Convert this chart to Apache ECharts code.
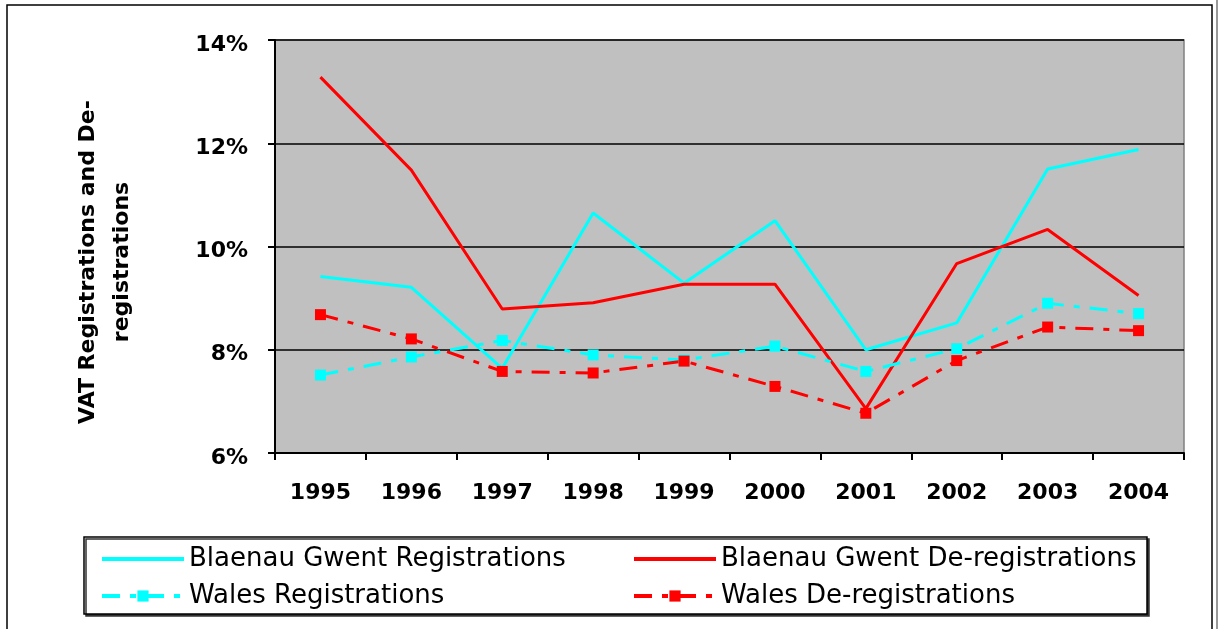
<!DOCTYPE html>
<html>
<head>
<meta charset="utf-8">
<script src="https://cdn.jsdelivr.net/npm/echarts@6/dist/echarts.min.js"></script>
<style>
  html, body { margin: 0; padding: 0; background: #fff; }
  #main { width: 1219px; height: 629px; }
</style>
</head>
<body>
<div id="main"></div>
<script>
var years = ['1995', '1996', '1997', '1998', '1999', '2000', '2001', '2002', '2003', '2004'];
var bgReg = [9.42, 9.21, 7.64, 10.65, 9.29, 10.5, 8.0, 8.52, 11.5, 11.88];
var bgDereg = [13.28, 11.48, 8.79, 8.91, 9.27, 9.27, 6.86, 9.67, 10.33, 9.05];
var walesReg = [7.51, 7.86, 8.18, 7.9, 7.8, 8.07, 7.58, 8.02, 8.9, 8.7];
var walesDereg = [8.68, 8.21, 7.58, 7.55, 7.78, 7.29, 6.77, 7.79, 8.44, 8.37];
var yTicks = [6, 8, 10, 12, 14];
var yTitle = 'VAT Registrations and De-\nregistrations';

var font = 'DejaVu Sans';
var cyan = '#00ffff';
var red = '#ff0000';

var legendText = { fontFamily: font, fontSize: 26, lineHeight: 26, color: '#000' };
var noMarker = { opacity: 0 };

var myChart = echarts.init(document.getElementById('main'));
var option = {
  backgroundColor: '#ffffff',
  animation: false,
  textStyle: { fontFamily: font },
  graphic: [
    {
      type: 'rect',
      shape: { x: 7, y: 5, width: 1205, height: 640 },
      style: { fill: 'none', stroke: '#000', lineWidth: 1.5 }
    },
    {
      type: 'line',
      shape: { x1: 1217, y1: 0, x2: 1217, y2: 629 },
      style: { stroke: '#999', lineWidth: 2 }
    },
    {
      type: 'rect',
      shape: { x: 84, y: 537, width: 1063, height: 77 },
      style: {
        fill: '#fff', stroke: '#000', lineWidth: 1.5,
        shadowColor: '#333', shadowOffsetX: 2, shadowOffsetY: 2, shadowBlur: 0
      },
      z: -1
    },
    {
      type: 'text',
      x: 105,
      y: 262,
      rotation: Math.PI / 2,
      style: {
        text: yTitle,
        fill: '#000',
        font: 'bold 22px "DejaVu Sans"',
        lineHeight: 34,
        align: 'center',
        verticalAlign: 'middle'
      }
    }
  ],
  grid: {
    left: 275,
    right: 35,
    top: 40,
    bottom: 176,
    show: true,
    backgroundColor: '#c0c0c0',
    borderColor: '#808080',
    borderWidth: 1.5
  },
  legend: [
    {
      orient: 'vertical',
      left: 100,
      top: 546,
      padding: 0,
      itemWidth: 82,
      itemHeight: 14,
      itemGap: 11,
      lineStyle: { width: 4 },
      textStyle: legendText,
      data: [
        { name: 'Blaenau Gwent Registrations', itemStyle: noMarker },
        'Wales Registrations'
      ]
    },
    {
      orient: 'vertical',
      left: 632,
      top: 546,
      padding: 0,
      itemWidth: 82,
      itemHeight: 14,
      itemGap: 11,
      lineStyle: { width: 4 },
      textStyle: legendText,
      data: [
        { name: 'Blaenau Gwent De-registrations', itemStyle: noMarker },
        'Wales De-registrations'
      ]
    }
  ],
  xAxis: {
    type: 'category',
    data: years,
    boundaryGap: true,
    axisLine: { lineStyle: { color: '#000', width: 2 } },
    axisTick: { show: true, length: 7, lineStyle: { color: '#000', width: 2 } },
    axisLabel: {
      color: '#000', fontSize: 22, fontWeight: 'bold', fontFamily: font, margin: 29
    },
    splitLine: { show: false }
  },
  yAxis: {
    type: 'value',
    min: 6,
    max: 14,
    interval: 2,
    axisLine: { show: true, lineStyle: { color: '#000', width: 2 } },
    axisTick: { show: true, length: 7, lineStyle: { color: '#000', width: 2 } },
    axisLabel: {
      color: '#000', fontSize: 22, fontWeight: 'bold', fontFamily: font, margin: 27,
      formatter: function (v) { return yTicks.indexOf(v) >= 0 ? '{v|' + v + '%}' : ''; },
      rich: {
        v: {
          color: '#000', fontSize: 22, fontWeight: 'bold', fontFamily: font,
          padding: [10, 0, 0, 0]
        }
      }
    },
    splitLine: { show: true, lineStyle: { color: '#000', width: 1.5 } }
  },
  series: [
    {
      name: 'Blaenau Gwent Registrations',
      type: 'line',
      data: bgReg,
      symbol: 'none',
      color: cyan,
      lineStyle: { color: cyan, width: 3 }
    },
    {
      name: 'Blaenau Gwent De-registrations',
      type: 'line',
      data: bgDereg,
      symbol: 'none',
      color: red,
      lineStyle: { color: red, width: 3 }
    },
    {
      name: 'Wales Registrations',
      type: 'line',
      data: walesReg,
      symbol: 'rect',
      symbolSize: 11,
      color: cyan,
      itemStyle: { color: cyan },
      lineStyle: { color: cyan, width: 3, type: [18, 10, 6, 10] }
    },
    {
      name: 'Wales De-registrations',
      type: 'line',
      data: walesDereg,
      symbol: 'rect',
      symbolSize: 11,
      color: red,
      itemStyle: { color: red },
      lineStyle: { color: red, width: 3, type: [18, 10, 6, 10] }
    }
  ]
};
myChart.setOption(option);
</script>
</body>
</html>
